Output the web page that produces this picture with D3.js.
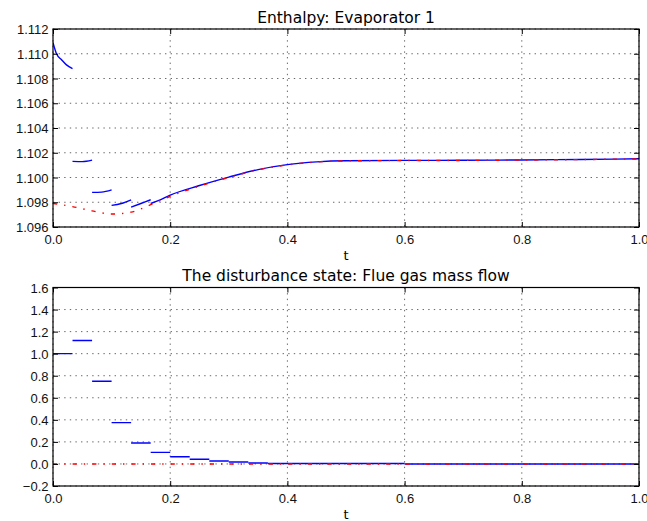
<!DOCTYPE html>
<html lang="en">
<head>
  <meta charset="UTF-8" />
  <title>Enthalpy: Evaporator 1</title>
  <style>
    body {
      margin: 0;
      padding: 0;
      background: #fff;
    }
    svg {
      display: block;
      font-family: "DejaVu Sans", sans-serif;
    }
    .tick text {
      font-size: 13px;
      fill: #111;
    }
    .grid line {
      stroke: #000;
      stroke-width: 0.6;
      stroke-dasharray: 1.4, 4.2;
    }
  </style>
</head>
<body>
  <svg id="chart"></svg>

  <script src="https://d3js.org/d3.v7.min.js"></script>
  <script>
    // time ticks shared by both panels
    const tTicks = [0, 0.2, 0.4, 0.6, 0.8, 1.0];

    // top panel: enthalpy
    const enthalpyTicks = [1.096, 1.098, 1.100, 1.102, 1.104, 1.106, 1.108, 1.110, 1.112];

    // reference trajectory (red dash-dot)
    const refT = [0, 0.0333, 0.0667, 0.1, 0.1333, 0.1667, 0.2, 0.25, 0.3, 0.35, 0.4, 0.45, 0.5, 0.6, 0.7, 0.8, 0.9, 1.0];
    const refH = [1.0979, 1.09765, 1.0973, 1.09705, 1.0972, 1.0978, 1.09848, 1.0993, 1.1000, 1.10062, 1.10102, 1.10125, 1.10134, 1.10137, 1.10138, 1.10141, 1.10145, 1.1015];

    // predicted pieces (blue), one per sampling interval
    const predSegments = [
      [[0, 1.1109], [0.006, 1.1100], [0.015, 1.1095], [0.023, 1.1091], [0.0333, 1.1088]],
      [[0.0333, 1.1013], [0.05, 1.10128], [0.0667, 1.1014]],
      [[0.0667, 1.0988], [0.083, 1.09882], [0.1, 1.0990]],
      [[0.1, 1.09775], [0.1167, 1.0979], [0.1333, 1.0982]],
      [[0.1333, 1.0976], [0.15, 1.0979], [0.1667, 1.0982]]
    ];

    // blue trajectory from t = 0.167 on
    const predTailT = [0.1667, 0.183, 0.2, 0.25, 0.3, 0.35, 0.4, 0.45, 0.5, 0.6, 0.7, 0.8, 0.9, 1.0];
    const predTailH = [1.0979, 1.0982, 1.09858, 1.09935, 1.10003, 1.10064, 1.10104, 1.10126, 1.10135, 1.10138, 1.10139, 1.10142, 1.10146, 1.10151];

    // bottom panel: flue gas mass flow disturbance
    const flowTicks = [-0.2, 0.0, 0.2, 0.4, 0.6, 0.8, 1.0, 1.2, 1.4, 1.6];
    const stepEdges = [0, 0.0333, 0.0667, 0.1, 0.1333, 0.1667, 0.2, 0.2333, 0.2667, 0.3, 0.3333, 0.3667, 0.6, 1.0];
    const flowSteps = [1.0, 1.12, 0.75, 0.375, 0.19, 0.105, 0.065, 0.042, 0.027, 0.018, 0.009, 0.004, 0.0];
    const flowRefT = [0, 1.0];
    const flowRefV = [0, 0];

    const W = 647, H = 521;
    const svg = d3.select("#chart").attr("width", W).attr("height", H);

    const left = 53, right = 639;

    function drawPanel(cfg) {
      const x = d3.scaleLinear().domain([0, 1]).range([left, right]);
      const y = d3.scaleLinear().domain(cfg.yDomain).range([cfg.bottom, cfg.top]);
      const g = svg.append("g");

      // grid
      const grid = g.append("g").attr("class", "grid");
      grid.selectAll(".gx").data(tTicks).join("line")
        .attr("x1", d => x(d)).attr("x2", d => x(d))
        .attr("y1", cfg.top).attr("y2", cfg.bottom);
      grid.selectAll(".gy").data(cfg.yTicks).join("line")
        .attr("class", "gy")
        .attr("x1", left).attr("x2", right)
        .attr("y1", d => y(d)).attr("y2", d => y(d));

      const clipId = "clip" + cfg.top;
      svg.append("clipPath").attr("id", clipId)
        .append("rect").attr("x", left).attr("y", cfg.top)
        .attr("width", right - left).attr("height", cfg.bottom - cfg.top);

      const plot = g.append("g").attr("clip-path", `url(#${clipId})`);
      cfg.drawLines(plot, x, y);

      // axes with inward ticks on all four sides
      const tickLen = 5;
      const xb = g.append("g").attr("transform", `translate(0,${cfg.bottom})`)
        .call(d3.axisBottom(x).tickValues(tTicks).tickFormat(d3.format(".1f"))
          .tickSizeInner(-tickLen).tickSizeOuter(0).tickPadding(0));
      xb.selectAll(".tick text").attr("y", 16.5).attr("dy", null);

      g.append("g").attr("transform", `translate(0,${cfg.top})`)
        .call(d3.axisTop(x).tickValues(tTicks).tickFormat("")
          .tickSizeInner(-tickLen).tickSizeOuter(0));

      const yl = g.append("g").attr("transform", `translate(${left},0)`)
        .call(d3.axisLeft(y).tickValues(cfg.yTicks).tickFormat(cfg.fmt)
          .tickSizeInner(-tickLen).tickSizeOuter(0).tickPadding(4.5));
      yl.selectAll(".tick text").attr("dy", "0.36em");

      g.append("g").attr("transform", `translate(${right},0)`)
        .call(d3.axisRight(y).tickValues(cfg.yTicks).tickFormat("")
          .tickSizeInner(-tickLen).tickSizeOuter(0));

      g.selectAll(".domain").remove();
      g.selectAll(".tick line").attr("stroke", "#000").attr("stroke-width", 1);

      g.append("rect")
        .attr("x", left).attr("y", cfg.top)
        .attr("width", right - left).attr("height", cfg.bottom - cfg.top)
        .attr("fill", "none").attr("stroke", "#000").attr("stroke-width", 1.2);

      g.append("text")
        .attr("x", (left + right) / 2).attr("y", cfg.top - 6.5)
        .attr("text-anchor", "middle").attr("font-size", 15.5)
        .text(cfg.title);

      g.append("text")
        .attr("x", (left + right) / 2).attr("y", cfg.bottom + 32.5)
        .attr("text-anchor", "middle").attr("font-size", 13)
        .text("t");
    }

    const blueStyle = sel => sel.attr("fill", "none").attr("stroke", "#0000ff").attr("stroke-width", 1.4);
    const redStyle = sel => sel.attr("fill", "none").attr("stroke", "#ff0000").attr("stroke-width", 1.4)
      .attr("stroke-dasharray", "4.2,7,1.4,7");

    drawPanel({
      title: "Enthalpy: Evaporator 1",
      top: 29, bottom: 227,
      yDomain: [1.096, 1.112],
      yTicks: enthalpyTicks,
      fmt: d3.format(".3f"),
      drawLines(plot, x, y) {
        const line = d3.line().x(d => x(d[0])).y(d => y(d[1])).curve(d3.curveMonotoneX);
        plot.selectAll(".seg").data(predSegments).join("path")
          .attr("class", "seg").attr("d", line).call(blueStyle);
        plot.append("path")
          .datum(predTailT.map((t, i) => [t, predTailH[i]]))
          .attr("d", line).call(blueStyle);
        plot.append("path")
          .datum(refT.map((t, i) => [t, refH[i]]))
          .attr("d", line).call(redStyle);
      }
    });

    drawPanel({
      title: "The disturbance state: Flue gas mass flow",
      top: 287.5, bottom: 486,
      yDomain: [-0.2, 1.6],
      yTicks: flowTicks,
      fmt: d3.format(".1f"),
      drawLines(plot, x, y) {
        plot.selectAll(".step").data(flowSteps).join("line")
          .attr("class", "step")
          .attr("x1", (d, i) => x(stepEdges[i])).attr("x2", (d, i) => x(stepEdges[i + 1]))
          .attr("y1", d => y(d)).attr("y2", d => y(d))
          .call(blueStyle);
        const line = d3.line().x(d => x(d[0])).y(d => y(d[1]));
        plot.append("path")
          .datum(flowRefT.map((t, i) => [t, flowRefV[i]]))
          .attr("d", line).call(redStyle);
      }
    });
  </script>
</body>
</html>
